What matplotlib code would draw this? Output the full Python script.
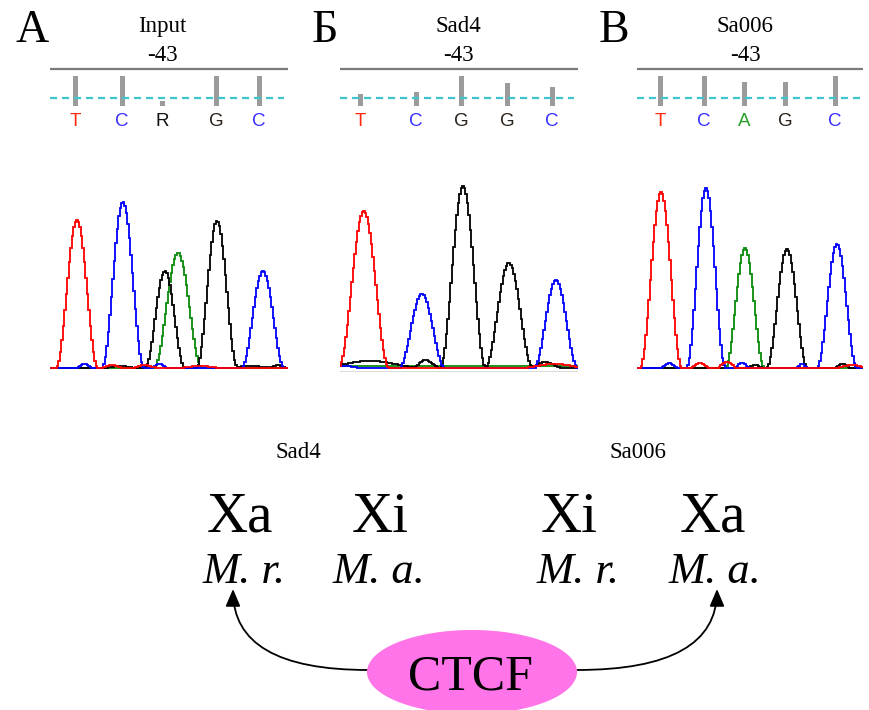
import numpy as np
import matplotlib
matplotlib.use("Agg")
import matplotlib.pyplot as plt
from matplotlib.patches import Ellipse, FancyArrowPatch

# ---------------- data ----------------
panel_letters = ["A", "Б", "В"]
panel_titles = ["Input", "Sad4", "Sa006"]
position_label = "-43"

# base calls (letters above the trace) and their quality bars
input_calls = ["T", "C", "R", "G", "C"]
input_call_pos = [25, 72, 112, 166, 209]
input_quality = [30, 30, 5, 30, 30]

sad4_calls = ["T", "C", "G", "G", "C"]
sad4_call_pos = [20, 76, 121, 167, 212]
sad4_quality = [12, 14, 30, 23, 19]

sa006_calls = ["T", "C", "A", "G", "C"]
sa006_call_pos = [23, 67, 107, 148, 198]
sa006_quality = [30, 30, 24, 24, 30]

# chromatogram peaks: base channel, scan position, height, half base width
input_peak_base = ["T", "C", "G", "A", "G", "C"]
input_peak_pos = [27, 73, 115, 128, 167, 213]
input_peak_height = [148, 166, 97, 115, 147, 97]
input_peak_width = [21, 21, 20, 24, 20.5, 21.5]

sad4_peak_base = ["T", "C", "G", "G", "C"]
sad4_peak_pos = [24, 82, 123, 169, 216]
sad4_peak_height = [156, 74, 182, 105, 88]
sad4_peak_width = [25, 23, 23, 24, 22]

sa006_peak_base = ["T", "C", "A", "G", "C"]
sa006_peak_pos = [24, 69, 108, 150, 200]
sa006_peak_height = [176, 180, 120, 119, 124]
sa006_peak_width = [21, 19.5, 19.5, 20.5, 20]

# small baseline signals: base channel, position, height, half width
input_noise_base = ["C", "G", "T", "C", "T", "G", "T", "G"]
input_noise_pos = [34, 70, 62, 110, 95, 200, 150, 228]
input_noise_height = [4, 2, 3, 4, 3, 2, 2, 3]
input_noise_width = [9, 18, 12, 9, 14, 28, 24, 9]

sad4_noise_base = ["G", "G", "G", "T", "A", "T", "C"]
sad4_noise_pos = [30, 86, 205, 215, 120, 10, 5]
sad4_noise_height = [7, 8, 6, 4, 2, 3, 2]
sad4_noise_width = [55, 14, 18, 35, 400, 22, 18]

sa006_noise_base = ["C", "T", "T", "C", "G", "C", "G", "T"]
sa006_noise_pos = [32, 63, 90, 105, 118, 165, 205, 215]
sa006_noise_height = [5, 5, 6, 5, 3, 4, 4, 3]
sa006_noise_width = [9, 11, 11, 9, 9, 7, 9, 18]

# bottom diagram
strain_labels = ["Sad4", "Sa006"]
x_states = ["Xa", "Xi", "Xi", "Xa"]
species = ["M. r.", "M. a.", "M. r.", "M. a."]
factor_label = "CTCF"

# ---------------- styles / layout ----------------
W, H = 869, 710
trace_colors = {"T": "#ff0000", "C": "#0000ff", "G": "#000000", "A": "#0a8a0a"}
call_colors = {"T": "#ff2a10", "C": "#3a30ff", "G": "#2a2018", "A": "#2aa02a", "R": "#111111"}
serif = ["Liberation Serif", "DejaVu Serif"]
sans = ["Liberation Sans", "DejaVu Sans"]

panel_x = [(50, 288), (340, 578), (637, 863)]
letter_x = [32, 325, 614]
title_x = [162, 458, 745]

panels = [
    dict(calls=input_calls, call_pos=input_call_pos, quality=input_quality,
         pb=input_peak_base, pp=input_peak_pos, ph=input_peak_height, pw=input_peak_width,
         nb=input_noise_base, npos=input_noise_pos, nh=input_noise_height, nw=input_noise_width),
    dict(calls=sad4_calls, call_pos=sad4_call_pos, quality=sad4_quality,
         pb=sad4_peak_base, pp=sad4_peak_pos, ph=sad4_peak_height, pw=sad4_peak_width,
         nb=sad4_noise_base, npos=sad4_noise_pos, nh=sad4_noise_height, nw=sad4_noise_width),
    dict(calls=sa006_calls, call_pos=sa006_call_pos, quality=sa006_quality,
         pb=sa006_peak_base, pp=sa006_peak_pos, ph=sa006_peak_height, pw=sa006_peak_width,
         nb=sa006_noise_base, npos=sa006_noise_pos, nh=sa006_noise_height, nw=sa006_noise_width),
]


def peak(xs, c, h, w):
    u = np.clip((xs - c) / w, -1, 1)
    return h * np.cos(0.5 * np.pi * u) ** 2


fig = plt.figure(figsize=(W / 100, H / 100), dpi=100)
fig.patch.set_facecolor("white")


def rect(x0, y0, x1, y1):
    return [x0 / W, 1 - y1 / H, (x1 - x0) / W, (y1 - y0) / H]


# overlay axes in pixel space for text & diagram
ov = fig.add_axes([0, 0, 1, 1])
ov.set_xlim(0, W)
ov.set_ylim(H, 0)
ov.axis("off")
ov.patch.set_alpha(0)

for i, p in enumerate(panels):
    x0, x1 = panel_x[i]
    width = x1 - x0

    # header: reference line, quality bars, base calls
    hx = fig.add_axes(rect(x0, 62, x1, 132))
    hx.set_xlim(0, width)
    hx.set_ylim(-26, 44)
    hx.axis("off")
    hx.patch.set_alpha(0)
    hx.axhline(37, color="#7a7a7a", lw=1.6)
    hx.bar(p["call_pos"], p["quality"], width=5, bottom=0, color="#9b9b9b", zorder=2)
    hx.axhline(8, color="#3ec6cf", lw=1.6, ls=(0, (3.2, 2.2)), zorder=3, xmax=0.985)
    for b, x in zip(p["calls"], p["call_pos"]):
        hx.text(x, -15, b, ha="center", va="center", color=call_colors[b],
                fontsize=13.5, family=sans)

    # chromatogram
    cx = fig.add_axes(rect(x0, 172, x1, 372))
    cx.set_xlim(0, width)
    cx.set_ylim(-4, 196)
    cx.axis("off")
    cx.patch.set_alpha(0)
    xs = np.arange(0, width + 1.5, 1.5)
    traces = {k: np.zeros_like(xs) for k in ["A", "G", "C", "T"]}
    for b, c, h, w in zip(p["pb"], p["pp"], p["ph"], p["pw"]):
        traces[b] += peak(xs, c, h, w)
    for b, c, h, w in zip(p["nb"], p["npos"], p["nh"], p["nw"]):
        traces[b] += peak(xs, c, h, w)
    for b in ["A", "G", "C", "T"]:
        cx.plot(xs, traces[b], color=trace_colors[b], lw=1.3, drawstyle="steps-mid",
                solid_joinstyle="miter")
    if i == 1:
        cx.axhline(-3.5, color="#d4d4d4", lw=1.2)

    # texts
    ov.text(letter_x[i], 42, panel_letters[i], ha="center", va="baseline",
            fontsize=33, family=serif)
    ov.text(title_x[i], 32, panel_titles[i], ha="center", va="baseline",
            fontsize=16.5, family=serif)
    ov.text(title_x[i], 61, position_label, ha="center", va="baseline",
            fontsize=16.5, family=serif)

# bottom diagram
strain_x = [298, 638]
for s, x in zip(strain_labels, strain_x):
    ov.text(x, 458, s, ha="center", va="baseline", fontsize=16.5, family=serif)

state_x = [240, 380, 569, 713]
species_x = [244, 379, 578, 715]
for s, x in zip(x_states, state_x):
    ov.text(x, 532, s, ha="center", va="baseline", fontsize=41, family=serif)
for s, x in zip(species, species_x):
    ov.text(x, 583, s, ha="center", va="baseline", fontsize=32, family=serif,
            style="italic")

ell = Ellipse((472, 672), 210, 84, facecolor="#ff74e8", edgecolor="none", zorder=2)
ov.add_patch(ell)
ov.text(470, 690, factor_label, ha="center", va="baseline", fontsize=36,
        family=serif, zorder=3)

arrow_kw = dict(arrowstyle="-|>,head_length=0.75,head_width=0.32", mutation_scale=14,
                color="black", lw=1.3, zorder=1, shrinkA=0, shrinkB=0)
ov.add_patch(FancyArrowPatch((368, 670), (233, 589),
                             connectionstyle="angle3,angleA=0,angleB=90", **arrow_kw))
ov.add_patch(FancyArrowPatch((577, 670), (717, 589),
                             connectionstyle="angle3,angleA=0,angleB=90", **arrow_kw))

fig.savefig("out.png", dpi=100, facecolor="white")
